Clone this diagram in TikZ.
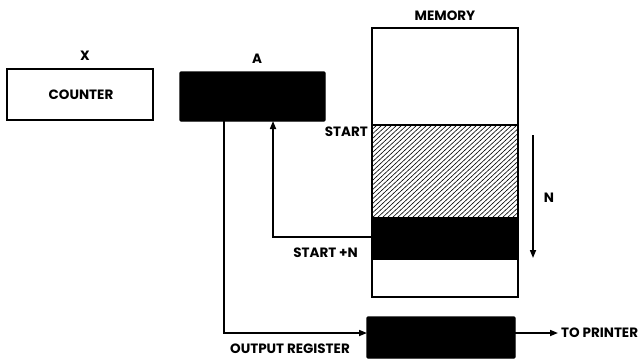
\documentclass[tikz,border=0pt]{standalone}
\usepackage{fontspec}
\setmainfont{Poppins}
\usetikzlibrary{arrows.meta}
\begin{document}
\begin{tikzpicture}[x=1pt,y=-1pt,
  lbl/.style={font=\bfseries\fontsize{13.5}{15}\selectfont, inner sep=0pt},
  wbox/.style={draw, line width=1.6pt, fill=white},
  bbox/.style={draw, line width=1.2pt, fill=black, rounded corners=1pt},
  conn/.style={line width=1.6pt},
  arr/.style={conn, -{Triangle[length=8pt,width=6pt]}}]
\useasboundingbox (0,0) rectangle (642,360);
% counter
\draw[wbox] (7,69) rectangle (153,120);
\node[lbl] (counter) at (81,95) {COUNTER};
\node[lbl] (x) at (85,56) {X};
% A register
\draw[bbox] (180,72) rectangle (325,121);
\coordinate (abl) at (224,121);
\coordinate (abr) at (273,121);
\node[lbl] (a) at (257,59) {A};
% memory
\node[lbl] (mem) at (445,16) {MEMORY};
\begin{scope}
\clip (372,125) rectangle (518,218);
\foreach \i in {0,5,...,260} { \draw[line width=0.6pt] (372+\i-100,218) -- (372+\i,125); }
\end{scope}
\fill (372,218) rectangle (518,260);
\draw[line width=1.6pt] (372,28) rectangle (518,297);
\draw[line width=1.6pt] (372,125) -- (518,125);
\draw[line width=1.2pt] (372,218) -- (518,218);
\coordinate (mrow) at (371,237);
\node[lbl, anchor=east] (start) at (368,132) {START};
\node[lbl, anchor=east] (startn) at (358,253) {START +N};
% N arrow
\coordinate (n1) at (533,135);
\coordinate (n2) at (533,258);
\draw[arr] (n1) -- (n2);
\node[lbl] (n) at (549,198) {N};
% connectors
\draw[arr] (mrow) -- (273,237) -- (abr);
% output register
\draw[bbox] (367,317) rectangle (515,358);
\coordinate (orl) at (367,333);
\coordinate (orr) at (515,333);
\draw[arr] (abl) -- (224,333) -- (orl);
\node[lbl] (outreg) at (290,349) {OUTPUT REGISTER};
\coordinate (tp) at (558,333);
\draw[arr] (orr) -- (tp);
\node[lbl, anchor=west] (printer) at (561,333) {TO PRINTER};
\end{tikzpicture}
\end{document}
